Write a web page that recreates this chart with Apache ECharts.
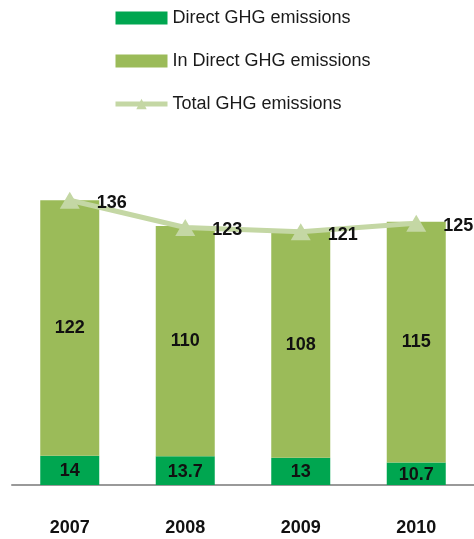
<!DOCTYPE html>
<html>
<head>
<meta charset="utf-8">
<script src="https://cdn.jsdelivr.net/npm/echarts@6/dist/echarts.min.js"></script>
<style>
  html, body { margin: 0; padding: 0; background: #fff; }
  #chart { width: 474px; height: 539px; }
</style>
</head>
<body>
<div id="chart"></div>
<script>
// data
var years = ['2007', '2008', '2009', '2010']
var directA = [14, 13.7, 13, 10.7]
var indirectA = [122, 110, 108, 115]
var totalA = [136, 123, 121, 125]

var font = "'Liberation Sans', Arial, sans-serif"
var lineColor = '#c4d7a4'

// bold number labels used on bars / line / axis
var numLabel = {
  color: '#111',
  fontSize: 18,
  fontWeight: 'bold',
  fontFamily: font
}

var myChart = echarts.init(document.getElementById('chart'))
myChart.setOption({
  animation: false,
  textStyle: { fontFamily: font },
  legend: {
    orient: 'vertical',
    left: 113,
    top: 8,
    padding: 0,
    itemWidth: 52,
    itemHeight: 13,
    itemGap: 23,
    textStyle: { fontSize: 18, color: '#1a1a1a', fontFamily: font, lineHeight: 20 },
    data: [
      { name: 'Direct GHG emissions', icon: 'rect' },
      { name: 'In Direct GHG emissions', icon: 'rect' },
      { name: 'Total GHG emissions', lineStyle: { width: 5, color: lineColor } }
    ]
  },
  grid: {
    left: 12,
    right: 0,
    top: 171,
    bottom: 54
  },
  xAxis: {
    type: 'category',
    data: years,
    axisTick: { show: false },
    axisLine: { lineStyle: { color: '#999', width: 2 } },
    axisLabel: Object.assign({ margin: 34 }, numLabel)
  },
  yAxis: {
    type: 'value',
    min: 0,
    max: 150,
    show: false,
    splitLine: { show: false }
  },
  series: [
    {
      name: 'Direct GHG emissions',
      type: 'bar',
      stack: 'ghg',
      barWidth: 59,
      data: directA,
      itemStyle: { color: '#00a650' },
      label: Object.assign({ show: true, position: 'inside', offset: [0, 1] }, numLabel)
    },
    {
      name: 'In Direct GHG emissions',
      type: 'bar',
      stack: 'ghg',
      barWidth: 59,
      data: indirectA,
      itemStyle: { color: '#9bbb59' },
      label: Object.assign({ show: true, position: 'inside' }, numLabel)
    },
    {
      name: 'Total GHG emissions',
      type: 'line',
      data: totalA,
      z: 5,
      symbol: 'triangle',
      symbolSize: [20, 17],
      lineStyle: { color: lineColor, width: 5 },
      itemStyle: { color: lineColor },
      label: Object.assign({
        show: true,
        position: 'right',
        distance: 17,
        offset: [0, 3]
      }, numLabel)
    }
  ]
})
</script>
</body>
</html>
